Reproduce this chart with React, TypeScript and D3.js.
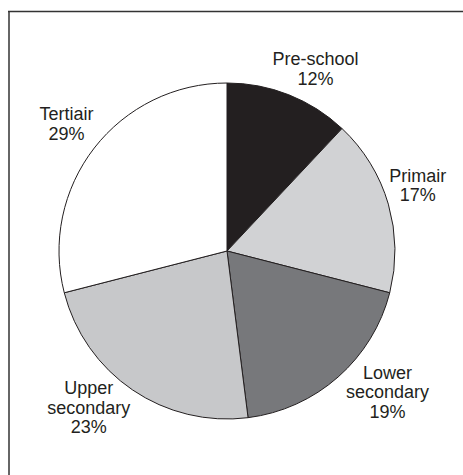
import React from "react";
import * as d3 from "d3";

const categories = ["Pre-school", "Primair", "Lower secondary", "Upper secondary", "Tertiair"];
const values = [12, 17, 19, 23, 29];
const labelLines = [["Pre-school"], ["Primair"], ["Lower", "secondary"], ["Upper", "secondary"], ["Tertiair"]];
const colors = ["#231f20", "#d1d2d4", "#77787b", "#c7c8ca", "#ffffff"];
// manual label nudges (layout only)
const nudges: [number, number][] = [[13, 8], [-6, -9], [25, -13], [-23, -13.5], [1.5, -2]];

const W = 463, H = 475;
const cx = 227, cy = 251, R = 168, LR = 205, LH = 19.5, FS = 18;

export default function App() {
  const pie = d3.pie<number>().sort(null).value((d) => d)(values);
  const arc = d3.arc<d3.PieArcDatum<number>>().innerRadius(0).outerRadius(R);
  return (
    <svg width={W} height={H} style={{ position: "fixed", left: 0, top: 0, background: "#fff" }}>
      <rect x={0} y={0} width={W} height={H} fill="#fff" />
      <line x1={9} y1={11} x2={9} y2={H} stroke="#666" strokeWidth={2} />
      <line x1={8} y1={11.5} x2={W} y2={11.5} stroke="#333" strokeWidth={1.5} />
      <g transform={`translate(${cx},${cy})`}>
        {pie.map((p, i) => (
          <path key={i} d={arc(p) || ""} fill={colors[i]} stroke="#231f20" strokeWidth={1} />
        ))}
      </g>
      {pie.map((p, i) => {
        const a = (p.startAngle + p.endAngle) / 2;
        const px = cx + LR * Math.sin(a) + nudges[i][0];
        const py = cy - LR * Math.cos(a) + nudges[i][1];
        const lines = [...labelLines[i], `${values[i]}%`];
        const y0 = py - ((lines.length - 1) * LH) / 2 + 6.5;
        return (
          <text key={i} textAnchor="middle" fontFamily="Liberation Sans, Arial, sans-serif" fontSize={FS} fill="#231f20">
            {lines.map((l, j) => (
              <tspan key={j} x={px} y={y0 + j * LH}>{l}</tspan>
            ))}
          </text>
        );
      })}
    </svg>
  );
}
